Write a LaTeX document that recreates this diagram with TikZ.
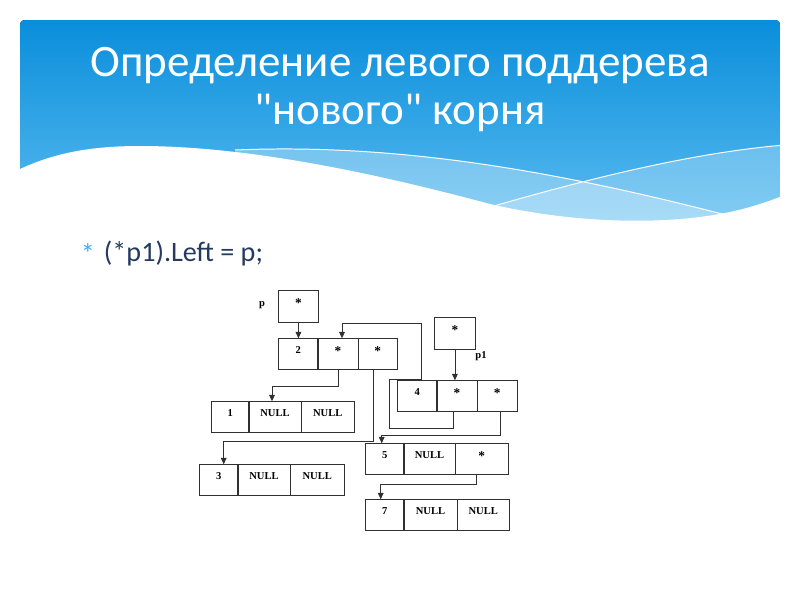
\documentclass[tikz,border=0pt]{standalone}
\usepackage{fontspec}
\setmainfont{Liberation Serif}
\newfontfamily\slidefont{Carlito}
\usepackage{tikz}
\usetikzlibrary{arrows.meta, positioning, calc, matrix}
\definecolor{cBANtop}{HTML}{0A8EDB}
\definecolor{cBANbot}{HTML}{5CBDF1}
\definecolor{cBULLET}{HTML}{3FA9F5}
\definecolor{cTEXT}{HTML}{243A5E}
\definecolor{cLINE}{HTML}{303030}
\def\px{0.025cm}
\newcommand\cstar{{\fontsize{9.5}{9}\selectfont\raisebox{-1.2pt}{*}}}
\tikzset{
  cell/.style={draw=cLINE, line width=0.6pt, minimum height=31*\px, inner sep=0pt,
    text height=5pt, text depth=6.2pt, font=\fontsize{7.5}{9}\selectfont\bfseries},
  rec/.style={matrix of nodes, nodes={cell}, column sep=-\pgflinewidth,
    inner sep=0pt, anchor=north west},
  cols/.style n args={3}{
    column 1/.style={nodes={minimum width=#1*\px}},
    column 2/.style={nodes={minimum width=#2*\px}},
    column 3/.style={nodes={minimum width=#3*\px}}},
  ptr/.style={draw=cLINE, line width=0.6pt, -{Triangle[width=4pt,length=4.5pt]}},
  lab/.style={font=\fontsize{7.5}{9}\selectfont\bfseries},
  title/.style={text=white, font=\slidefont\fontsize{32}{38}\selectfont},
}

\begin{document}
\begin{tikzpicture}[x=0.025cm, y=-0.025cm]
\useasboundingbox (0,0) rectangle (800,600);

% banner
\begin{scope}
\clip[rounded corners=3pt] (20,20) rectangle (780,240);
\fill[top color=cBANtop, bottom color=cBANbot] (20,20) rectangle (780,230);
\fill[white, opacity=0.3] (235,150) .. controls (400,143) and (560,172) .. (730,216)
  -- (730,240) -- (235,240) -- cycle;
\fill[white, opacity=0.25] (480,210) .. controls (600,175) and (700,152) .. (780,146)
  -- (780,240) -- (480,240) -- cycle;
\draw[white, line width=0.7pt] (235,150) .. controls (400,143) and (560,172) .. (730,216);
\draw[white, line width=0.7pt] (480,210) .. controls (600,175) and (700,152) .. (785,145);
\fill[white] (10,174) .. controls (50,153) and (90,146) .. (140,146)
  .. controls (260,146) and (400,180) .. (490,204)
  .. controls (550,218) and (620,224) .. (680,219)
  .. controls (730,215) and (760,205) .. (790,193)
  -- (790,240) -- (10,240) -- cycle;
\end{scope}

\node[title] (t1) at (400,66) {Определение левого поддерева};
\node[title] (t2) at (400,113) {"нового" корня};

\node[text=cBULLET, font=\slidefont\fontsize{20}{22}\selectfont] (bul) at (88,254) {*};
\node[text=cTEXT, font=\slidefont\fontsize{20}{22}\selectfont, anchor=west] (code) at (99,253) {(*p1).Left = p;};

% pointers p and p1
\node[cell, minimum width=40*\px, minimum height=32*\px, anchor=north west] (p) at (278,290) {\cstar};
\node[lab] (plab) at (262,305) {p};
\node[cell, minimum width=41*\px, minimum height=32*\px, anchor=north west] (p1) at (434,317) {\cstar};
\node[lab] (p1lab) at (481,356) {p1};

% records
\matrix (b2) [rec, cols={39}{40}{39}] at (278,338) { 2 & \cstar & \cstar \\ };
\matrix (b1) [rec, cols={37}{52}{53}] at (211,401) { 1 & NULL & NULL \\ };
\matrix (b3) [rec, cols={38}{52}{54}] at (199,464) { 3 & NULL & NULL \\ };
\matrix (b4) [rec, cols={39}{40}{40}] at (397,380) { 4 & \cstar & \cstar \\ };
\matrix (b5) [rec, cols={38}{51}{53}] at (365,443) { 5 & NULL & \cstar \\ };
\matrix (b7) [rec, cols={38}{53}{52}] at (365,499) { 7 & NULL & NULL \\ };

% links
\draw[ptr] (p.south) -- (p.south |- b2-1-1.north);
\draw[ptr] (p1.south) -- (p1.south |- b4-1-2.north);
\draw[ptr] (b2-1-2.south) -- ++(0,16) -| ([xshift=-3*\px]b1-1-2.north);
\draw[ptr] ([xshift=-4*\px]b2-1-3.south) -- ++(0,71) -| ([xshift=5*\px]b3-1-1.north);
\draw[ptr] ([xshift=-4*\px]b4-1-2.south) -- ++(0,16) -| ++(-64,-49) -| ++(32,-56)
  -| ([xshift=4*\px]b2-1-2.north);
\draw[ptr] ([xshift=3*\px]b4-1-3.south) -- ++(0,23) -| ([xshift=-3*\px]b5-1-1.north);
\draw[ptr] ([xshift=-5*\px]b5-1-3.south) -- ++(0,9) -| ([xshift=-4*\px]b7-1-1.north);
\end{tikzpicture}
\end{document}
